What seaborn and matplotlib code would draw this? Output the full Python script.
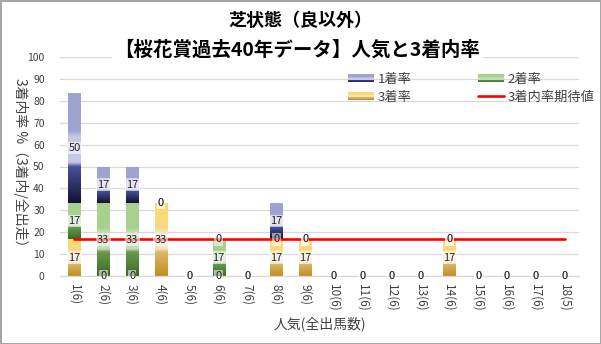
import numpy as np
import pandas as pd
import matplotlib
matplotlib.use("Agg")
import matplotlib.pyplot as plt
import seaborn as sns
from matplotlib.colors import LinearSegmentedColormap
from matplotlib.patches import Patch, Rectangle
from matplotlib.lines import Line2D
from matplotlib.legend_handler import HandlerBase

# ---------------- data ----------------
categories = ["1(6)", "2(6)", "3(6)", "4(6)", "5(6)", "6(6)", "7(6)", "8(6)", "9(6)",
              "10(6)", "11(6)", "12(6)", "13(6)", "14(6)", "15(6)", "16(6)", "17(6)", "18(5)"]
win_rate = [50.0, 16.7, 16.7, 0, 0, 0, 0, 16.7, 0, 0, 0, 0, 0, 0, 0, 0, 0, 0]        # 1着率
second_rate = [16.7, 33.3, 33.3, 0, 0, 16.7, 0, 0, 0, 0, 0, 0, 0, 0, 0, 0, 0, 0]     # 2着率
third_rate = [16.7, 0, 0, 33.3, 0, 0, 0, 16.7, 16.7, 0, 0, 0, 0, 16.7, 0, 0, 0, 0]   # 3着率
expected = [16.7] * len(categories)                                                    # 3着内率期待値

title1 = "芝状態（良以外）"
title2 = "【桜花賞過去40年データ】人気と3着内率"
ylabel = "3着内率 %（3着内/全出走）"
xlabel = "人気(全出馬数)"
legend_labels = ["1着率", "3着率", "2着率", "3着内率期待値"]

df = pd.DataFrame({"cat": categories, "win": win_rate, "second": second_rate,
                   "third": third_rate})
df["b2"] = df["third"]
df["b1"] = df["third"] + df["second"]

# ---------------- style ----------------
sns.set_theme(style="white")
plt.rcParams["font.family"] = ["Noto Sans CJK JP", "DejaVu Sans"]

W, H = 601, 344
fig = plt.figure(figsize=(W / 100, H / 100), dpi=100)
fig.patch.set_facecolor("white")
fig.patch.set_edgecolor("#a6a6a6")
fig.patch.set_linewidth(2)

ax = fig.add_axes([60 / W, 1 - 276 / H, (579 - 60) / W, (276 - 57) / H])

cmaps = {
    "third": LinearSegmentedColormap.from_list("g3", [
        (0.0, "#bf8f1f"), (0.33, "#dcb869"), (0.37, "#f6e4c2"), (0.6, "#f6e4c2"),
        (0.66, "#f9d98a"), (1.0, "#ffd966")]),
    "second": LinearSegmentedColormap.from_list("g2", [
        (0.0, "#3b6a27"), (0.33, "#6a9a4e"), (0.37, "#c7dcb7"), (0.6, "#c7dcb7"),
        (0.66, "#a9d18e"), (1.0, "#a9d18e")]),
    "win": LinearSegmentedColormap.from_list("g1", [
        (0.0, "#0f1333"), (0.33, "#4a519c"), (0.37, "#c7c9e3"), (0.6, "#c7c9e3"),
        (0.66, "#9fa3cf"), (1.0, "#9fa3cf")]),
}
solid = {"third": "#e6c470", "second": "#8fb973", "win": "#7e84bd"}
text_col = "#404040"

bar_w = 0.42
series = [("third", None), ("second", "b2"), ("win", "b1")]
seg_patches = {}
for key, bcol in series:
    n_before = len(ax.patches)
    kw = {}
    if bcol is not None:
        kw["bottom"] = df[bcol].values
    sns.barplot(data=df, x="cat", y=key, order=categories, color=solid[key],
                width=bar_w, errorbar=None, linewidth=0, saturation=1, ax=ax,
                zorder=2, **kw)
    seg_patches[key] = ax.patches[n_before:]

# gradient fill for each segment
grad = np.linspace(0, 1, 256).reshape(-1, 1)
for key, patches in seg_patches.items():
    for p in patches:
        h = p.get_height()
        if h <= 0:
            continue
        x0, y0, w = p.get_x(), p.get_y(), p.get_width()
        im = ax.imshow(grad, extent=[x0, x0 + w, y0, y0 + h], origin="lower",
                       cmap=cmaps[key], aspect="auto", zorder=2.1,
                       interpolation="bilinear")
        im.set_clip_path(p)

# expected line
sns.lineplot(x=np.arange(len(categories)), y=expected, color="#ff0000",
             linewidth=1.9, ax=ax, zorder=3)

# data labels
lab_kw = dict(ha="center", va="center", fontsize=8, color="#262626", zorder=5,
              bbox=dict(boxstyle="square,pad=0.12", fc="white", ec="none", alpha=0.55))
for key, patches in seg_patches.items():
    for p in patches:
        h = p.get_height()
        xc = p.get_x() + p.get_width() / 2
        yc = p.get_y() + h / 2
        ax.text(xc, yc, f"{h:.0f}", **lab_kw)

ax.set_xlim(-0.5, len(categories) - 0.5)
ax.set_ylim(0, 100)
ax.set_yticks(np.arange(0, 101, 10))
ax.set_axisbelow(True)
ax.yaxis.grid(True, color="#d9d9d9", linewidth=0.9)
ax.xaxis.grid(False)
for s in ["top", "right", "left"]:
    ax.spines[s].set_visible(False)
ax.spines["bottom"].set_color("#d9d9d9")
ax.spines["bottom"].set_linewidth(0.9)
ax.tick_params(axis="both", length=0, colors=text_col)
ax.tick_params(axis="y", labelsize=7.5, pad=11)
ax.tick_params(axis="x", labelsize=8.5, pad=6)
ax.set_xticks(np.arange(len(categories)))
ax.set_xticklabels(categories, rotation=270, ha="center", va="top")
ax.set_xlabel(xlabel, fontsize=10, color=text_col, labelpad=3)
ax.set_ylabel("")
fig.text(20 / W, 1 - 166 / H, ylabel, rotation=270, ha="center", va="center",
         fontsize=10, color=text_col)

# titles
fig.text(0.5, 1 - 20 / H, title1, ha="center", va="center", fontsize=13,
         fontweight="bold", color="#000000")
fig.text(0.495, 1 - 50 / H, title2, ha="center", va="center", fontsize=14,
         fontweight="bold", color="#000000",
         bbox=dict(boxstyle="square,pad=0.15", fc="white", ec="none"))


# legend with gradient swatches
class GradHandler(HandlerBase):
    def __init__(self, cmap, n=12):
        super().__init__()
        self.cmap, self.n = cmap, n

    def create_artists(self, legend, orig_handle, xdescent, ydescent, width,
                       height, fontsize, trans):
        arts = []
        for i in range(self.n):
            c = self.cmap((i + 0.5) / self.n)
            r = Rectangle((-xdescent, -ydescent + height * i / self.n), width,
                          height / self.n * 1.05, facecolor=c, edgecolor="none",
                          transform=trans)
            arts.append(r)
        return arts


h_win = Patch(facecolor=solid["win"])
h_third = Patch(facecolor=solid["third"])
h_second = Patch(facecolor=solid["second"])
h_line = Line2D([0], [0], color="#ff0000", linewidth=1.9)
handles = [h_win, h_third, h_second, h_line]
leg = fig.legend(handles, legend_labels, loc="upper left",
                 bbox_to_anchor=(348 / W, 1 - 73 / H), ncol=2, frameon=False,
                 fontsize=9.5, handlelength=2.0, handleheight=0.55, handletextpad=0.25,
                 columnspacing=5.0, labelspacing=0.35, borderpad=0, borderaxespad=0,
                 handler_map={h_win: GradHandler(cmaps["win"]),
                              h_third: GradHandler(cmaps["third"]),
                              h_second: GradHandler(cmaps["second"])})
for t in leg.get_texts():
    t.set_color(text_col)

fig.savefig("out.png", dpi=100)
